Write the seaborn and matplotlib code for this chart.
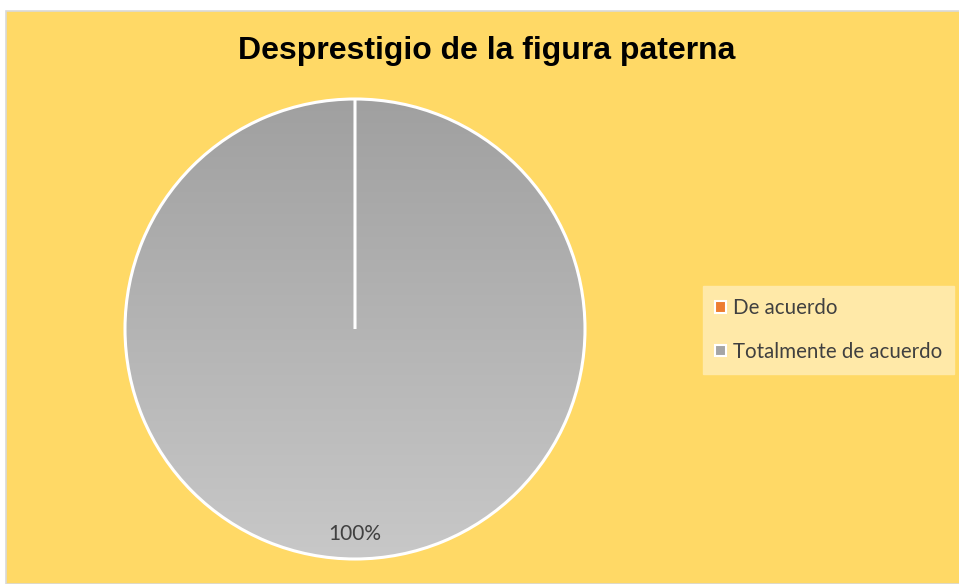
import numpy as np
import matplotlib
matplotlib.use("Agg")
import matplotlib.pyplot as plt
from matplotlib.patches import Rectangle
import seaborn as sns

# data
categories = ["De acuerdo", "Totalmente de acuerdo"]
values = [0, 100]
colors = ["#ED7D31", "#A5A5A5"]
title = "Desprestigio de la figura paterna"

sns.set_style("white")
plt.rcParams['font.family'] = ['Lato', 'DejaVu Sans']

W, H = 959, 584
fig = plt.figure(figsize=(W / 100, H / 100), dpi=100)
fig.patch.set_facecolor("white")

# chart area background with thin grey frame
fig.patches.append(Rectangle((6 / W, 0), 1, (H - 11) / H, transform=fig.transFigure,
                             facecolor="#FFD966", edgecolor="#D9D9D9", linewidth=1.2,
                             zorder=-5))

cx, cy, r = 355, 329, 230
ax = fig.add_axes([(cx - r) / W, (H - cy - r) / H, 2 * r / W, 2 * r / H])
ax.set_facecolor("none")
ax.set_zorder(2)


def pct(p):
    return "" if p < 0.5 else "{:.0f}%".format(p)


wedges, texts, autotexts = ax.pie(
    values, colors=colors, startangle=90, counterclock=False,
    autopct=pct, pctdistance=0.89,
    wedgeprops=dict(edgecolor="white", linewidth=2.2),
    textprops=dict(color="#404040", fontsize=15))

# soft vertical gradient on the grey slice, like the office style
grad = np.linspace(0, 1, 256).reshape(-1, 1)
cmap = matplotlib.colors.LinearSegmentedColormap.from_list("g", ["#C8C8C8", "#A0A0A0"])
for w, v in zip(wedges, values):
    if v == 0:
        continue
    img = ax.imshow(grad, cmap=cmap, extent=(-1, 1, -1, 1), origin="lower",
                    aspect="auto", zorder=2)
    img.set_clip_path(w)
    w.set_facecolor("none")
for w in wedges:
    w.set_zorder(3)
for t in autotexts:
    t.set_zorder(5)
ax.set_xlim(-1.0, 1.0)
ax.set_ylim(-1.0, 1.0)
ax.set_aspect("equal")
ax.axis("off")

fig.text(487 / W, 1 - 51 / H, title, ha="center", va="center", color="black",
         fontsize=23, fontweight="bold", family=["Liberation Sans", "DejaVu Sans"])

handles = [Rectangle((0, 0), 1, 1, facecolor=c, edgecolor="white", linewidth=1.5)
           for c in colors]
leg = fig.legend(handles, categories, loc="center left",
                 bbox_to_anchor=(703 / W, 1 - 330 / H), frameon=True,
                 fancybox=False, facecolor="#FFE9A8", edgecolor="#FFE9A8",
                 framealpha=1, fontsize=14.8, handlelength=0.5, handleheight=0.5,
                 handletextpad=0.35, labelspacing=1.15, borderpad=0.6,
                 borderaxespad=0)
for t in leg.get_texts():
    t.set_color("#404040")

fig.savefig("out.png", dpi=100, facecolor=fig.get_facecolor())
